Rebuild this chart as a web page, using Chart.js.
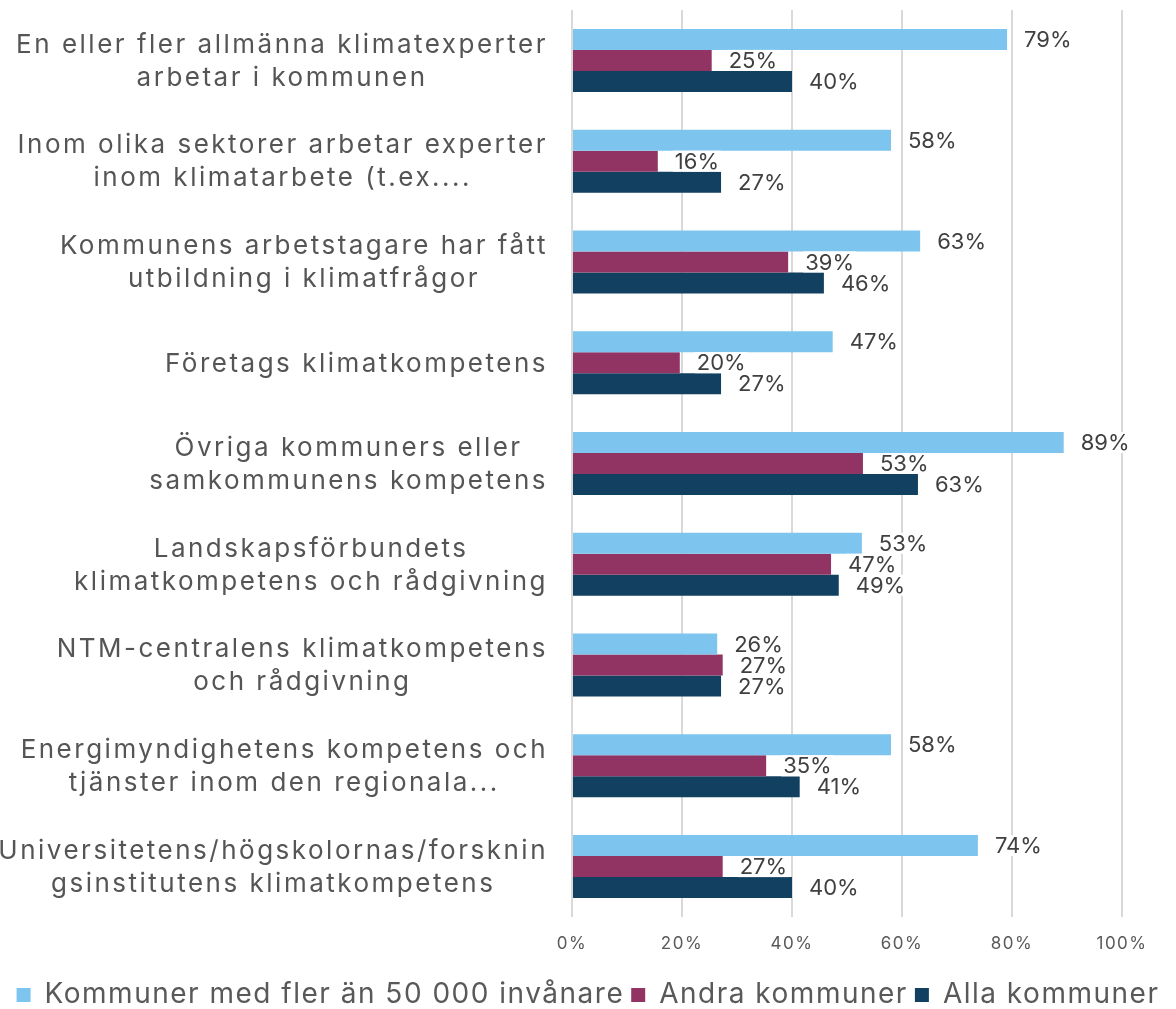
<!DOCTYPE html>
<html>
<head>
<meta charset="utf-8">
<script src="https://cdn.jsdelivr.net/npm/chart.js@4.4.1/dist/chart.umd.min.js"></script>
<style>
  html, body { margin: 0; padding: 0; background: #ffffff; }
  #wrap { width: 1176px; height: 1009px; position: relative; }
</style>
</head>
<body>
<div id="wrap"><canvas id="c"></canvas></div>
<script>
const categories = [
  ["En eller fler allmänna klimatexperter", "arbetar i kommunen"],
  ["Inom olika sektorer arbetar experter", "inom klimatarbete (t.ex...."],
  ["Kommunens arbetstagare har fått", "utbildning i klimatfrågor"],
  ["Företags klimatkompetens"],
  ["Övriga kommuners eller ", "samkommunens kompetens"],
  ["Landskapsförbundets", "klimatkompetens och rådgivning"],
  ["NTM-centralens klimatkompetens", "och rådgivning"],
  ["Energimyndighetens kompetens och", "tjänster inom den regionala..."],
  ["Universitetens/högskolornas/forsknin", "gsinstitutens klimatkompetens"]
];
const seriesNames = ["Kommuner med fler än 50 000 invånare", "Andra kommuner", "Alla kommuner"];
const largeMunicipalities = [79.1, 58.0, 63.3, 47.4, 89.4, 52.7, 26.4, 58.0, 73.8];
const otherMunicipalities = [25.4, 15.6, 39.3, 19.6, 52.9, 47.1, 27.4, 35.3, 27.4];
const allMunicipalities   = [40.0, 27.1, 45.8, 27.1, 62.9, 48.5, 27.1, 41.4, 40.0];
const xTickValues = [0, 20, 40, 60, 80, 100];

const colors = ["#7DC5EF", "#913464", "#124060"];
const FONT = "Inter, 'Open Sans', 'DejaVu Sans', sans-serif";
const GLOBAL_SPACING = "1.5px";

const spacingPlugin = {
  id: 'spacing',
  beforeLayout(chart) { chart.ctx.letterSpacing = GLOBAL_SPACING; },
  beforeDraw(chart) { chart.ctx.letterSpacing = GLOBAL_SPACING; }
};

const categoryLabelPlugin = {
  id: 'categoryLabels',
  afterDraw(chart) {
    const ctx = chart.ctx;
    const yScale = chart.scales.y;
    const rightEdge = chart.chartArea.left - 24;
    ctx.save();
    ctx.letterSpacing = "2.5px";
    ctx.font = "26px " + FONT;
    ctx.fillStyle = "#555555";
    ctx.textAlign = "left";
    ctx.textBaseline = "middle";
    const lh = 33;
    categories.forEach((lines, i) => {
      const yc = yScale.getPixelForValue(i);
      const widths = lines.map(l => ctx.measureText(l.trimEnd()).width);
      const maxW = Math.max(...widths);
      const cx = rightEdge - maxW / 2;
      const y0 = yc - (lines.length - 1) * lh / 2;
      lines.forEach((l, k) => ctx.fillText(l.trimEnd(), cx - widths[k] / 2, y0 + k * lh + 1));
    });
    ctx.restore();
  }
};

const dataLabelPlugin = {
  id: 'dataLabels',
  afterDatasetsDraw(chart) {
    const ctx = chart.ctx;
    ctx.save();
    ctx.letterSpacing = "0px";
    ctx.font = "22px " + FONT;
    ctx.textBaseline = "middle";
    ctx.textAlign = "left";
    const items = [];
    chart.data.datasets.forEach((ds, di) => {
      const meta = chart.getDatasetMeta(di);
      meta.data.forEach((el, i) => {
        const txt = Math.round(ds.data[i]) + "%";
        const w = ctx.measureText(txt).width;
        items.push({ x: el.x, y: el.y, h: el.height, txt, w });
      });
    });
    ctx.fillStyle = "#ffffff";
    items.forEach(it => {
      ctx.fillRect(it.x + 15, it.y - it.h / 2, it.w + 4, it.h);
    });
    ctx.fillStyle = "#404040";
    items.forEach(it => {
      ctx.fillText(it.txt, it.x + 17, it.y + 1);
    });
    ctx.restore();
  }
};

new Chart(document.getElementById('c'), {
  type: 'bar',
  data: {
    labels: categories.map(l => l.join(' ')),
    datasets: [
      { label: seriesNames[0], data: largeMunicipalities, backgroundColor: colors[0] },
      { label: seriesNames[1], data: otherMunicipalities, backgroundColor: colors[1] },
      { label: seriesNames[2], data: allMunicipalities, backgroundColor: colors[2] }
    ]
  },
  options: {
    indexAxis: 'y',
    responsive: true,
    maintainAspectRatio: false,
    animation: false,
    datasets: { bar: { categoryPercentage: 0.625, barPercentage: 1.0 } },
    layout: { padding: { left: 0, right: 0, top: 10, bottom: -10 } },
    scales: {
      x: {
        min: 0, max: 100,
        afterBuildTicks(scale) { scale.ticks = xTickValues.map(v => ({ value: v })); },
        afterFit(scale) { scale.height = 57; },
        grid: { color: '#d9d9d9', lineWidth: 2, drawTicks: false },
        border: { display: false },
        ticks: {
          padding: 17,
          color: '#595959',
          font: { family: FONT, size: 17 },
          callback: v => v + '%'
        }
      },
      y: {
        afterFit(scale) { scale.width = 572; },
        grid: { display: false },
        border: { display: false },
        ticks: { display: false }
      },
      yRight: {
        type: 'linear',
        position: 'right',
        min: 0, max: 1,
        afterFit(scale) { scale.width = 54; },
        grid: { display: false },
        border: { display: false },
        ticks: { display: false }
      }
    },
    plugins: {
      legend: {
        position: 'bottom',
        labels: {
          boxWidth: 14,
          boxHeight: 14,
          padding: 7,
          color: '#595959',
          font: { family: FONT, size: 28 }
        }
      },
      tooltip: { enabled: false }
    }
  },
  plugins: [spacingPlugin, categoryLabelPlugin, dataLabelPlugin]
});
</script>
</body>
</html>
